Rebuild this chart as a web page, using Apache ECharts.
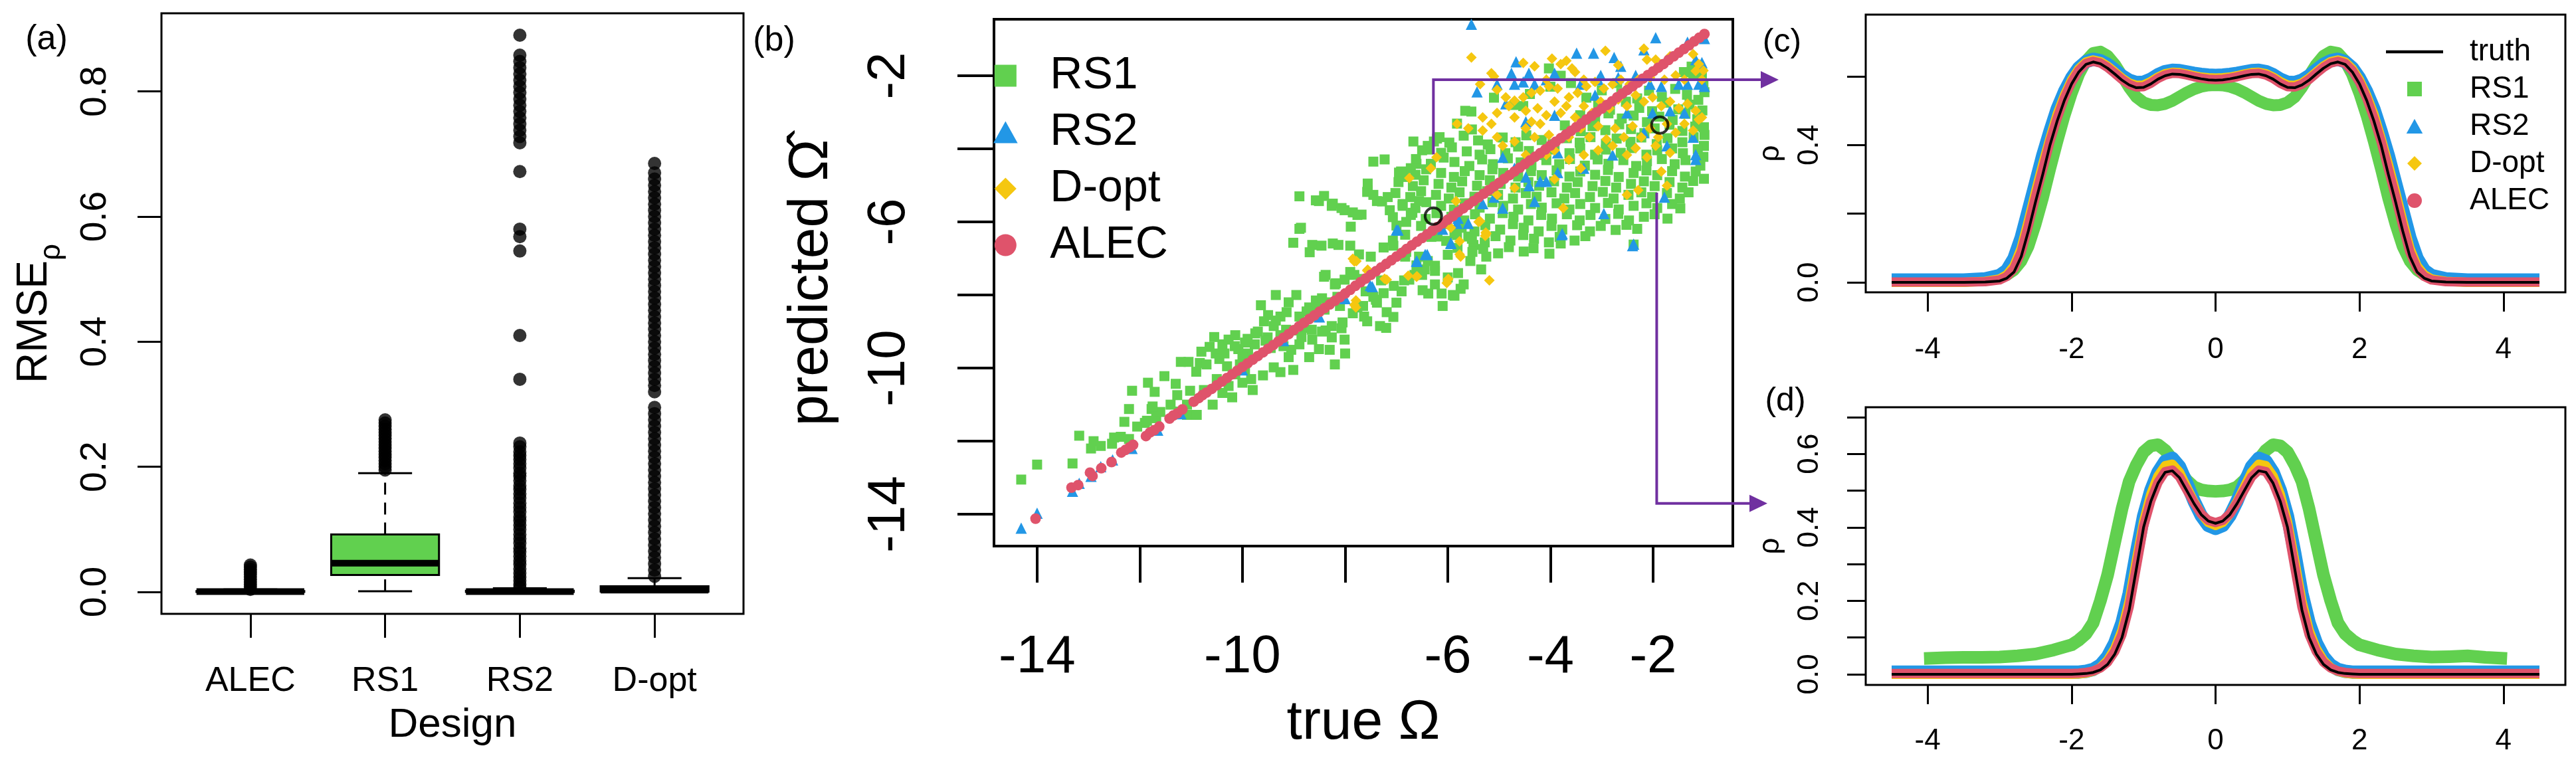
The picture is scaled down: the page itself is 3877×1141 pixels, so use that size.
<!DOCTYPE html>
<html>
<head>
<meta charset="utf-8">
<script src="https://cdn.jsdelivr.net/npm/echarts@6.0.0/dist/echarts.min.js"></script>
<style>html,body{margin:0;padding:0;background:#fff}#main{width:3877px;height:1141px}</style>
</head>
<body>
<div id="main"></div>
<script>
// ---------------- DATA ----------------
const DESIGNS = ['ALEC', 'RS1', 'RS2', 'D-opt'];
// boxplot stats per design: [lower whisker, Q1, median, Q3, upper whisker]
const BOX_ALEC = [0, 0, 0.0005, 0.0015, 0.004];
const BOX_RS1  = [0.001, 0.027, 0.046, 0.092, 0.19];
const BOX_RS2  = [0, 0, 0.0005, 0.002, 0.006];
const BOX_DOPT = [0, 0.0005, 0.003, 0.009, 0.022];
const OUT_ALEC = [0.004,0.008,0.012,0.016,0.02,0.024,0.028,0.032,0.036,0.04,0.043];
const OUT_RS1 = [0.195,0.2,0.205,0.21,0.215,0.22,0.225,0.23,0.235,0.24,0.245,0.25,0.255,0.26,0.265,0.27,0.275];
const OUT_RS2 = [0.007,0.012,0.018,0.024,0.03,0.037,0.044,0.05,0.057,0.064,0.07,0.078,0.085,0.092,0.1,0.107,0.114,0.12,0.128,0.135,0.142,0.15,0.157,0.164,0.17,0.178,0.185,0.19,0.198,0.205,0.212,0.218,0.224,0.232,0.238,0.34,0.41,0.545,0.568,0.58,0.672,0.718,0.728,0.738,0.748,0.758,0.768,0.778,0.788,0.798,0.808,0.818,0.828,0.838,0.848,0.858,0.89];
const OUT_DOPT = [0.025,0.035,0.045,0.055,0.065,0.075,0.085,0.095,0.105,0.115,0.125,0.135,0.145,0.155,0.165,0.175,0.185,0.195,0.205,0.215,0.225,0.235,0.245,0.255,0.265,0.275,0.285,0.295,0.32,0.33,0.34,0.35,0.36,0.37,0.38,0.39,0.4,0.41,0.42,0.43,0.44,0.45,0.46,0.47,0.48,0.49,0.5,0.51,0.52,0.53,0.54,0.55,0.56,0.57,0.58,0.59,0.6,0.61,0.62,0.63,0.64,0.65,0.66,0.67,0.685];
const RMSE_TICKS = [0, 0.2, 0.4, 0.6, 0.8];

// panel (b): [true Omega, predicted Omega]
const B_RS1 = [
[-14.31,-13.05],[-14.0,-12.64],[-13.31,-12.61],[-13.18,-11.85],[-12.95,-12.2],[-12.76,-12.13],[-12.54,-12.07],[-12.37,-11.88],[-12.21,-11.94],[-12.21,-11.12],[-12.15,-10.62],[-12.3,-11.47],[-11.84,-10.4],[-11.71,-10.65],[-11.77,-11.12],[-11.68,-11.37],[-11.52,-10.22],[-11.3,-10.43],[-11.27,-10.74],[-11.2,-9.83],[-11.05,-9.83],[-10.83,-9.86],[-11.24,-11.19],[-11.08,-11.28],[-10.89,-11.28],[-11.02,-10.62],[-11.08,-11.0],[-11.4,-11.0],[-11.6,-11.2],[-11.9,-11.5],[-12.05,-11.6],[-12.9,-12.0],[-12.5,-11.9],[-11.86,-11.44],[-11.75,-11.05],
[-10.64,-9.42],[-10.52,-9.6],[-10.39,-9.35],[-10.27,-9.22],[-10.14,-9.1],[-10.08,-9.48],[-9.89,-9.6],[-9.76,-9.35],[-10.58,-11.0],[-10.39,-10.68],[-10.27,-10.49],[-10.14,-10.17],[-9.95,-10.05],[-9.83,-10.3],[-9.58,-8.72],[-9.39,-8.85],[-9.26,-8.59],[-9.14,-8.47],[-9.64,-8.28],[-9.51,-9.16],[-9.26,-9.1],[-9.01,-8.97],[-9.39,-9.98],[-9.26,-10.11],[-9.01,-10.05],[-8.89,-8.59],[-8.7,-8.34],[-8.57,-8.15],[-8.45,-8.09],[-8.89,-9.35],[-8.64,-9.22],[-8.51,-9.48],[-8.26,-9.16],[-8.01,-9.22],[-8.38,-8.97],[-8.26,-8.85],[-8.07,-8.91],[-8.38,-7.45],[-8.2,-7.71],[-8.01,-7.58],[-7.82,-7.45],[-10.7,-9.9],[-10.45,-9.75],[-10.3,-9.95],[-10.0,-9.7],[-9.9,-9.2],[-9.7,-9.0],[-9.5,-8.55],[-9.45,-9.45],[-9.2,-9.4],[-9.1,-9.7],[-9.6,-10.2],[-9.8,-10.6],[-10.0,-10.4],[-10.2,-10.8],[-10.5,-10.3],[-10.75,-10.6],[-8.8,-8.9],[-8.6,-8.6],[-8.4,-8.4],[-8.3,-9.5],[-8.7,-9.7],[-8.1,-8.3],[-8.95,-8.0],[-9.1,-8.2],[-9.35,-8.0],[-8.0,-9.6],[-8.2,-9.9],
[-10.9,-10.1],[-10.8,-9.55],[-10.55,-9.15],[-10.35,-9.6],[-10.15,-9.4],[-10.05,-9.9],[-9.95,-9.3],[-9.75,-9.05],[-9.55,-9.25],[-9.35,-8.7],[-9.15,-8.95],[-9.05,-9.5],[-8.85,-9.15],[-8.75,-8.45],[-8.65,-8.95],[-8.55,-8.35],[-8.45,-9.0],[-8.35,-8.2],[-8.15,-8.05],[-8.05,-8.75],[-7.85,-8.5],[-7.65,-8.3],[-7.45,-8.05],[-7.25,-7.95],[-7.05,-7.75],[-6.85,-7.6],[-6.65,-7.45],[-6.45,-7.3],[-6.25,-7.2],
[-7.76,-8.34],[-7.63,-8.59],[-7.38,-8.21],[-7.19,-8.47],[-7.0,-8.21],[-7.57,-8.72],[-7.32,-8.85],[-7.5,-6.95],[-7.25,-6.7],[-7.07,-6.51],[-6.81,-6.82],[-6.56,-6.95],[-6.75,-7.58],[-6.5,-7.45],[-6.25,-7.71],[-6.0,-7.52],[-5.75,-7.83],[-6.38,-7.96],[-6.12,-7.96],[-5.87,-8.02],[-5.69,-7.71],[-8.89,-6.19],[-9.01,-6.57],[-8.64,-6.63],[-8.13,-6.63],[-8.89,-5.3],[-8.51,-5.43],[-8.26,-5.56],[-8.01,-5.68],[-7.76,-5.81],[-7.89,-6.13],[-7.57,-5.18],[-7.38,-5.43],[-7.13,-5.68],[-6.88,-5.56],[-6.69,-5.75],[-6.56,-5.43],[-7.07,-5.87],[-6.81,-6.0],[-5.87,-6.32],[-5.5,-6.63],[-5.25,-6.95],[-8.57,-5.41],[-8.41,-5.29],[-8.24,-5.5],[-8.07,-5.62],[-7.85,-5.74],[-7.68,-5.8],[-8.86,-6.16],[-8.69,-6.83],[-8.46,-6.65],[-8.24,-6.59],[-7.9,-6.65],[-7.73,-6.89],[-8.41,-7.5],[-8.18,-7.68],[-7.9,-7.37],[-7.68,-7.56],[-7.56,-5.13],[-7.45,-5.26],[-7.28,-5.44],[-7.17,-5.32],[-7.56,-4.95],[-7.45,-4.35],[-7.23,-4.29],[-6.95,-4.65],[-6.83,-4.77],[-6.72,-4.53],[-6.61,-4.41],[-6.5,-4.04],[-6.39,-3.92],[-6.27,-3.8],[-6.16,-3.68],[-6.67,-3.8],[-7.0,-6.1],[-6.83,-6.35],[-7.06,-6.65],[-6.83,-6.95],[-6.61,-7.19],[-6.39,-7.07],[-6.49,-7.87],[-6.25,-7.34],[-5.9,-8.0],[-5.56,-7.07],[-7.4,-8.13],[-7.2,-8.9],[-7.06,-8.6],[-6.9,-7.9],[-7.3,-7.6],[-7.6,-7.9],[-6.1,-8.3],[-5.8,-7.4],[-5.35,-7.3],[-5.6,-6.4],[-6.0,-6.9],[-6.2,-6.4],
[-5.66,-2.96],[-5.54,-2.98],[-4.53,-2.83],[-4.03,-1.8],[-3.8,-2.0],[-1.25,-1.75],[-1.05,-1.95],[-1.0,-2.45],[-1.4,-1.9],[-5.1,-2.6],[-4.7,-2.8],[-4.4,-2.5],[-4.0,-2.3],[-3.6,-2.2],[-3.3,-2.6],[-3.0,-2.4],[-2.7,-2.2],
[-2.62,-2.47],[-2.31,-2.62],[-2.08,-2.41],[-1.83,-2.58],[-1.57,-2.36],[-1.34,-2.52],[-1.12,-2.66],[-1.02,-2.21],[-1.22,-1.98],
[-3.07,-2.78],[-2.84,-2.93],[-2.53,-2.71],[-2.27,-2.88],[-2.02,-2.97],[-1.76,-2.74],[-1.51,-2.92],[-1.29,-2.79],[-1.04,-2.95],
[-3.42,-3.08],[-3.13,-3.22],[-2.87,-3.03],[-2.61,-3.17],[-2.38,-3.09],[-2.12,-3.27],[-1.88,-3.12],[-1.62,-3.21],[-1.37,-3.04],[-1.14,-3.19],[-1.01,-3.41],
[-5.82,-3.31],[-5.53,-3.47],[-3.72,-3.36],[-3.41,-3.52],[-3.18,-3.38],[-2.93,-3.49],[-2.66,-3.33],[-2.43,-3.46],[-2.17,-3.57],[-1.97,-3.44],[-1.68,-3.34],[-1.43,-3.51],[-1.18,-3.39],[-1.0,-3.62],
[-6.21,-3.72],[-5.97,-3.83],[-5.69,-3.64],[-5.41,-3.77],[-5.22,-3.88],[-4.93,-3.69],[-4.68,-3.82],[-4.47,-3.63],[-4.17,-3.76],[-3.96,-3.87],[-3.68,-3.71],[-3.43,-3.83],[-3.22,-3.68],[-2.92,-3.86],[-2.71,-3.72],[-2.44,-3.81],[-2.23,-3.69],[-1.93,-3.87],[-1.72,-3.71],[-1.43,-3.82],[-1.21,-3.68],[-1.01,-3.92],
[-6.38,-4.02],[-6.13,-4.11],[-5.92,-3.96],[-5.63,-4.07],[-5.38,-4.16],[-5.17,-4.01],[-4.88,-4.12],[-4.63,-3.94],[-4.42,-4.06],[-4.13,-4.17],[-3.92,-4.02],[-3.63,-4.12],[-3.42,-3.99],[-3.13,-4.16],[-2.92,-4.02],[-2.63,-4.11],[-2.42,-3.98],[-2.13,-4.16],[-1.92,-4.04],[-1.63,-3.99],[-1.42,-4.12],[-1.13,-4.01],[-1.02,-4.22],
[-6.62,-4.28],[-6.33,-4.41],[-6.08,-4.24],[-5.87,-4.36],[-5.58,-4.47],[-5.33,-4.29],[-5.12,-4.42],[-4.83,-4.26],[-4.58,-4.37],[-4.37,-4.46],[-4.08,-4.31],[-3.83,-4.42],[-3.62,-4.28],[-3.33,-4.46],[-3.08,-4.29],[-2.87,-4.41],[-2.58,-4.31],[-2.33,-4.47],[-2.12,-4.34],[-1.83,-4.28],[-1.58,-4.42],[-1.37,-4.31],[-1.08,-4.46],
[-6.91,-4.62],[-6.63,-4.71],[-6.42,-4.56],[-6.13,-4.66],[-5.88,-4.77],[-5.67,-4.61],[-5.38,-4.72],[-5.13,-4.56],[-4.92,-4.66],[-4.63,-4.76],[-4.38,-4.61],[-4.17,-4.72],[-3.88,-4.59],[-3.63,-4.76],[-3.42,-4.62],[-3.13,-4.71],[-2.88,-4.58],[-2.67,-4.77],[-2.38,-4.66],[-2.13,-4.59],[-1.92,-4.72],[-1.63,-4.61],[-1.38,-4.76],[-1.17,-4.62],[-1.01,-4.82],
[-6.96,-4.91],[-6.68,-5.02],[-6.47,-4.86],[-6.18,-4.96],[-5.93,-5.06],[-5.72,-4.89],[-5.43,-5.01],[-5.18,-4.86],[-4.97,-4.96],[-4.68,-5.06],[-4.43,-4.91],[-4.22,-5.01],[-3.93,-4.89],[-3.68,-5.06],[-3.47,-4.91],[-3.18,-5.02],[-2.93,-4.88],[-2.72,-5.06],[-2.43,-4.96],[-2.18,-4.89],[-1.97,-5.02],[-1.68,-4.91],[-1.43,-5.06],[-1.22,-4.88],
[-7.02,-5.21],[-6.73,-5.32],[-6.52,-5.16],[-6.23,-5.26],[-5.98,-5.36],[-5.77,-5.19],[-5.48,-5.31],[-5.23,-5.16],[-5.02,-5.26],[-4.73,-5.36],[-4.48,-5.21],[-4.27,-5.31],[-3.98,-5.19],[-3.73,-5.36],[-3.52,-5.21],[-3.23,-5.32],[-2.98,-5.18],[-2.77,-5.36],[-2.48,-5.26],[-2.23,-5.19],[-2.02,-5.32],[-1.73,-5.21],[-1.48,-5.36],[-1.31,-5.19],
[-6.88,-5.51],[-6.63,-5.62],[-6.42,-5.46],[-6.13,-5.56],[-5.88,-5.66],[-5.67,-5.49],[-5.38,-5.61],[-5.13,-5.46],[-4.92,-5.56],[-4.63,-5.66],[-4.38,-5.51],[-4.17,-5.61],[-3.88,-5.49],[-3.63,-5.66],[-3.42,-5.51],[-3.13,-5.62],[-2.88,-5.48],[-2.67,-5.66],[-2.38,-5.56],[-2.13,-5.49],[-1.92,-5.62],[-1.63,-5.51],[-1.47,-5.63],
[-6.72,-5.81],[-6.43,-5.92],[-6.22,-5.76],[-5.93,-5.86],[-5.68,-5.96],[-5.47,-5.79],[-5.18,-5.91],[-4.93,-5.76],[-4.72,-5.86],[-4.43,-5.96],[-4.18,-5.81],[-3.97,-5.91],[-3.68,-5.79],[-3.43,-5.96],[-3.22,-5.81],[-2.93,-5.92],[-2.68,-5.78],[-2.47,-5.96],[-2.18,-5.86],[-1.97,-5.79],[-1.72,-5.91],
[-6.52,-6.11],[-6.23,-6.22],[-6.02,-6.06],[-5.73,-6.16],[-5.48,-6.26],[-5.27,-6.09],[-4.98,-6.21],[-4.73,-6.06],[-4.52,-6.16],[-4.23,-6.26],[-3.98,-6.11],[-3.77,-6.21],[-3.48,-6.09],[-3.23,-6.26],[-3.02,-6.11],[-2.73,-6.22],[-2.52,-6.08],[-2.31,-6.19],
[-6.32,-6.41],[-6.03,-6.52],[-5.82,-6.36],[-5.53,-6.46],[-5.28,-6.56],[-5.07,-6.39],[-4.78,-6.51],[-4.53,-6.36],[-4.32,-6.46],[-4.03,-6.56],[-3.82,-6.41],[-3.53,-6.51],[-3.32,-6.39],[-2.38,-6.62],
[-5.81,-6.71],[-5.52,-6.82],[-5.31,-6.74],[-5.02,-6.86],[-4.81,-6.69],[-4.52,-6.81],[-4.33,-6.72],[-4.02,-6.87],[-3.8,-6.59]
];
const B_RS2 = [
[-5.54,-0.59],[-1.95,-0.96],[-3.49,-1.38],[-3.16,-1.38],[-2.76,-1.5],[-2.18,-1.29],[-1.33,-1.08],[-1.02,-0.93],[-4.67,-1.62],[-4.76,-1.93],[-4.42,-1.93],[-3.92,-1.93],[-3.02,-1.99],[-2.63,-1.74],[-5.43,-2.44],[-5.04,-2.23],[-4.7,-2.23],[-4.53,-2.17],[-4.31,-2.23],[-4.08,-2.11],[-3.41,-2.23],[-3.07,-2.11],[-2.68,-2.05],[-2.34,-1.99],[-2.06,-2.23],[-1.84,-2.29],[-1.5,-2.23],[-1.33,-2.23],[-1.11,-2.23],[-1.05,-1.68],[-1.17,-1.56],[-4.87,-2.77],[-4.48,-3.26],[-3.92,-3.08],[-3.13,-2.53],[-2.18,-3.56],[-1.73,-3.92],[-1.22,-3.68],[-1.17,-4.29],[-1.78,-5.32],[-2.96,-5.77],[-3.78,-6.35],[-2.4,-6.65],[-4.31,-5.44],[-4.93,-5.62],[-5.1,-5.32],[-5.32,-5.5],[-5.6,-6.04],[-5.82,-6.04],[-5.94,-6.59],[-6.44,-6.89],[-6.61,-7.07],[-7.0,-6.22],[-7.51,-7.74],[-4.93,-4.23],[-4.48,-4.77],[-4.2,-4.89],[-4.08,-4.89],[-3.86,-4.65],[-3.86,-4.11],[-4.42,-5.01],[-4.7,-4.53],[-3.35,-4.53],[-2.79,-4.17],[-1.39,-3.02],[-2.01,-3.02],[-1.0,-2.29],[-1.67,-2.96],[-2.51,-3.02],
[-2.38,-6.61],[-3.77,-6.32],[-1.17,-4.16],[-1.0,-0.98],[-1.05,-1.64],
[-14.31,-14.38],[-14.0,-13.97],[-13.31,-13.37],[-13.18,-13.15],[-12.95,-12.96],[-12.76,-12.7],[-12.53,-12.51],[-12.15,-12.2],[-11.65,-11.7],[-11.2,-11.25],[-7.47,-7.77],[-6.97,-6.22],[-6.6,-7.08],[-6.4,-6.89],[-5.94,-6.57],[-6.1,-6.2],[-5.8,-5.9],[-10.0,-10.05],[-9.2,-9.25],[-8.5,-8.6],[-8.0,-8.1]
];
const B_DOPT = [
[-5.54,-1.5],[-5.15,-1.93],[-5.1,-2.02],[-4.53,-1.65],[-4.31,-1.74],[-3.97,-1.53],[-3.8,-1.68],[-3.52,-1.9],[-2.93,-1.32],[-2.68,-1.71],[-2.18,-1.26],[-2.12,-1.56],[-1.95,-1.56],[-1.67,-1.47],[-1.22,-1.41],[-1.11,-1.68],[-1.02,-1.86],[-3.69,-1.59],[-3.58,-1.8],[-3.35,-2.11],[-4.08,-2.11],
[-5.37,-2.23],[-5.04,-2.38],[-4.87,-2.59],[-4.7,-2.68],[-4.53,-2.59],[-4.37,-2.47],[-4.2,-2.41],[-4.03,-2.29],[-3.86,-2.35],[-3.64,-2.59],[-3.47,-2.47],[-3.3,-2.29],[-3.13,-2.17],[-2.96,-2.35],[-2.79,-2.23],[-2.63,-2.11],[-2.46,-2.23],[-2.29,-2.11],[-2.06,-2.05],[-1.78,-2.11],[-1.56,-1.99],[-1.39,-2.11],[-1.17,-1.87],[-1.05,-2.11],
[-5.82,-3.32],[-5.6,-3.44],[-5.32,-3.14],[-5.15,-3.32],[-5.04,-3.02],[-4.81,-2.83],[-4.7,-3.14],[-4.48,-2.96],[-4.37,-3.26],[-4.25,-2.89],[-4.08,-3.08],[-3.92,-2.71],[-3.8,-3.02],[-3.69,-2.83],[-3.52,-3.14],[-3.35,-2.83],[-3.19,-3.02],[-3.02,-2.71],[-2.85,-2.89],[-2.68,-2.65],[-2.51,-2.83],[-2.34,-2.53],[-2.18,-2.71],[-2.01,-2.59],[-1.84,-2.83],[-1.67,-2.71],[-1.5,-2.89],[-1.33,-2.77],[-1.17,-2.96],[-1.05,-3.14],
[-5.32,-3.5],[-5.04,-3.68],[-4.93,-3.92],[-4.7,-3.8],[-4.48,-3.44],[-4.31,-3.68],[-4.2,-3.32],[-4.03,-3.62],[-3.92,-4.04],[-3.64,-3.68],[-3.41,-3.44],[-3.24,-3.68],[-3.07,-3.38],[-2.91,-3.74],[-2.74,-3.44],[-2.57,-3.68],[-2.4,-3.38],[-2.23,-3.68],[-2.06,-3.44],[-1.9,-3.68],[-1.73,-3.32],[-1.56,-3.56],[-1.39,-3.32],[-1.22,-3.5],[-1.11,-3.2],
[-3.35,-4.17],[-3.07,-4.04],[-2.79,-3.92],[-2.51,-4.17],[-2.34,-3.98],[-2.12,-4.23],[-1.95,-3.92],[-1.67,-4.11],[-1.84,-4.62],[-3.41,-4.53],[-3.92,-4.83],[-3.64,-4.3],[-4.08,-4.17],[-4.48,-4.17],
[-3.75,-5.62],[-2.51,-5.26],[-2.29,-5.13],[-1.73,-5.01],[-5.26,-6.29],[-5.37,-5.98],[-5.77,-6.53],[-5.77,-6.89],[-5.99,-7.56],[-6.61,-7.5],[-7.23,-7.56],[-7.56,-7.31],[-7.85,-7.01],[-6.22,-4.23],[-6.75,-4.8],[-6.33,-4.53],[-5.94,-6.16],[-5.04,-5.26],[-4.7,-5.07],
[-7.82,-7.08],[-7.57,-7.33],[-7.19,-7.58],[-7.79,-8.15],[-7.79,-8.34],[-6.6,-7.49],[-6.0,-7.58],[-5.75,-6.95],[-5.4,-6.0],[-5.84,-5.43],[-5.25,-6.32],[-7.78,-7.07],[-7.82,-8.27],[-6.77,-7.47],[-6.02,-7.67],[-5.19,-7.6],[-5.27,-6.38]
];
const B_ALEC = [
[-14.03,-14.12],[-13.33,-13.27],[-13.2,-13.2],[-12.97,-12.86],[-12.92,-12.95],[-12.75,-12.74],[-12.55,-12.57],[-12.36,-12.31],[-12.28,-12.24],[-12.2,-12.17],[-12.13,-12.1],[-11.88,-11.86],[-11.8,-11.76],[-11.72,-11.7],[-11.62,-11.6],[-11.42,-11.38],[-11.35,-11.3],[-11.27,-11.24],[-11.17,-11.13],[-10.95,-10.92],[-10.85,-10.82],[-10.78,-10.74],
[-10.7,-10.67],[-10.6,-10.57],[-10.5,-10.47],[-10.4,-10.37],[-10.3,-10.27],[-10.2,-10.17],[-10.1,-10.07],[-10,-9.97],[-9.9,-9.87],[-9.8,-9.77],[-9.7,-9.67],[-9.6,-9.57],[-9.5,-9.47],[-9.4,-9.37],[-9.3,-9.27],[-9.2,-9.17],[-9.1,-9.07],[-9,-8.96],[-8.9,-8.86],[-8.8,-8.76],[-8.7,-8.66],[-8.6,-8.56],[-8.5,-8.46],[-8.4,-8.36],[-8.3,-8.26],[-8.2,-8.16],[-8.1,-8.06],[-8,-7.96],[-7.9,-7.86],[-7.8,-7.75],[-7.7,-7.65],[-7.6,-7.55],[-7.5,-7.45],[-7.4,-7.35],[-7.3,-7.25],[-7.2,-7.15],[-7.1,-7.05],[-7,-6.95],[-6.9,-6.85],[-6.8,-6.74],[-6.7,-6.64],[-6.6,-6.54],[-6.5,-6.44],[-6.4,-6.34],[-6.3,-6.24],[-6.2,-6.14],[-6.1,-6.04],[-6,-5.94],[-5.9,-5.84],[-5.8,-5.73],[-5.7,-5.63],[-5.6,-5.53],[-5.5,-5.43],[-5.4,-5.33],[-5.3,-5.23],[-5.2,-5.13],[-5.1,-5.03],[-5,-4.93],[-4.9,-4.82],[-4.8,-4.72],[-4.7,-4.62],[-4.6,-4.52],[-4.5,-4.42],[-4.4,-4.32],[-4.3,-4.22],[-4.2,-4.12],[-4.1,-4.02],[-4,-3.91],[-3.9,-3.81],[-3.8,-3.71],[-3.7,-3.61],[-3.6,-3.51],[-3.5,-3.41],[-3.4,-3.31],[-3.3,-3.2],[-3.2,-3.1],[-3.1,-3.0],[-3,-2.9],[-2.9,-2.8],[-2.8,-2.7],[-2.7,-2.59],[-2.6,-2.49],[-2.5,-2.39],[-2.4,-2.29],[-2.3,-2.19],[-2.2,-2.08],[-2.1,-1.98],[-2,-1.88],[-1.9,-1.78],[-1.8,-1.68],[-1.7,-1.57],[-1.6,-1.47],[-1.5,-1.37],[-1.4,-1.27],[-1.3,-1.17],[-1.2,-1.06],[-1.1,-0.96],[-1,-0.86]
];
const B_MARKED = [[-6.28,-5.84],[-1.87,-3.35]];
const CONN_C = [-6.28, -4.15, -2.11];   // x, start y, turn y (to panel c)
const CONN_D = [-1.93, -5.2, -13.7];    // x, start y, turn y (to panel d)
const OMEGA_TICKS = [-14,-12,-10,-8,-6,-4,-2];
const OMEGA_XLABELS = [-14,-10,-6,-4,-2];
const OMEGA_YLABELS = [-14,-10,-6,-2];

// panels (c),(d): density curves rho(x)
const XC = [-4.5,-4,-3.5,-3.2,-3,-2.9,-2.8,-2.7,-2.6,-2.5,-2.4,-2.3,-2.2,-2.1,-2,-1.9,-1.8,-1.7,-1.6,-1.5,-1.4,-1.3,-1.2,-1.1,-1,-0.9,-0.8,-0.7,-0.6,-0.5,-0.4,-0.3,-0.2,-0.1,0,0.1,0.2,0.3,0.4,0.5,0.6,0.7,0.8,0.9,1,1.1,1.2,1.3,1.4,1.5,1.6,1.7,1.8,1.9,2,2.1,2.2,2.3,2.4,2.5,2.6,2.7,2.8,2.9,3,3.2,3.5,4,4.5];
const C_TRUTH = [0,0,0,0.001,0.004,0.012,0.03,0.075,0.15,0.235,0.315,0.4,0.47,0.53,0.578,0.613,0.635,0.642,0.637,0.624,0.607,0.589,0.575,0.567,0.568,0.578,0.592,0.602,0.607,0.606,0.602,0.597,0.593,0.59,0.589,
0.59,0.593,0.597,0.602,0.606,0.607,0.602,0.592,0.578,0.568,0.567,0.575,0.589,0.607,0.624,0.637,0.642,0.635,0.613,0.578,0.53,0.47,0.4,0.315,0.235,0.15,0.075,0.03,0.012,0.004,0.001,0,0,0];
const C_RS1 = [0.004,0.004,0.005,0.008,0.014,0.022,0.036,0.062,0.105,0.17,0.245,0.33,0.41,0.485,0.55,0.605,0.645,0.668,0.672,0.66,0.635,0.602,0.568,0.54,0.524,0.517,0.516,0.52,0.529,0.541,0.553,0.563,0.57,0.574,0.575,
0.574,0.57,0.563,0.553,0.541,0.529,0.52,0.516,0.517,0.524,0.54,0.568,0.602,0.635,0.66,0.672,0.668,0.645,0.605,0.55,0.485,0.41,0.33,0.245,0.17,0.105,0.062,0.036,0.022,0.014,0.008,0.005,0.004,0.004];
const C_RS2 = [0.007,0.007,0.007,0.01,0.02,0.035,0.07,0.13,0.21,0.29,0.37,0.44,0.505,0.555,0.595,0.625,0.643,0.65,0.646,0.635,0.619,0.602,0.589,0.582,0.583,0.592,0.605,0.614,0.618,0.617,0.613,0.609,0.606,0.604,0.603,
0.604,0.606,0.609,0.613,0.617,0.618,0.614,0.605,0.592,0.583,0.582,0.589,0.602,0.619,0.635,0.646,0.65,0.643,0.625,0.595,0.555,0.505,0.44,0.37,0.29,0.21,0.13,0.07,0.035,0.02,0.01,0.007,0.007,0.007];
const C_DOPT = [0,0,0,0.003,0.01,0.022,0.048,0.1,0.18,0.265,0.345,0.42,0.49,0.545,0.59,0.622,0.642,0.648,0.643,0.63,0.613,0.595,0.581,0.574,0.575,0.585,0.598,0.608,0.612,0.611,0.607,0.602,0.598,0.596,0.595,
0.596,0.598,0.602,0.607,0.611,0.612,0.608,0.598,0.585,0.575,0.574,0.581,0.595,0.613,0.63,0.643,0.648,0.642,0.622,0.59,0.545,0.49,0.42,0.345,0.265,0.18,0.1,0.048,0.022,0.01,0.003,0,0,0];
const C_ALEC = [0.001,0.001,0.001,0.002,0.007,0.017,0.04,0.088,0.165,0.25,0.33,0.41,0.478,0.537,0.583,0.617,0.638,0.644,0.639,0.626,0.609,0.591,0.577,0.569,0.57,0.58,0.594,0.604,0.609,0.608,0.604,0.599,0.595,0.592,0.591,
0.592,0.595,0.599,0.604,0.608,0.609,0.604,0.594,0.58,0.57,0.569,0.577,0.591,0.609,0.626,0.639,0.644,0.638,0.617,0.583,0.537,0.478,0.41,0.33,0.25,0.165,0.088,0.04,0.017,0.007,0.002,0.001,0.001,0.001];
const XD = [-4.5,-4,-3.5,-3,-2.5,-2.2,-2,-1.9,-1.8,-1.7,-1.6,-1.5,-1.4,-1.3,-1.2,-1.1,-1,-0.9,-0.8,-0.7,-0.6,-0.5,-0.4,-0.3,-0.2,-0.1,0,0.1,0.2,0.3,0.4,0.5,0.6,0.7,0.8,0.9,1,1.1,1.2,1.3,1.4,1.5,1.6,1.7,1.8,1.9,2,2.2,2.5,3,3.5,4,4.5];
const D_TRUTH = [0,0,0,0,0,0,0,0.001,0.002,0.005,0.012,0.027,0.055,0.1,0.175,0.287,0.4,0.47,0.52,0.55,0.554,0.535,0.5,0.465,0.435,0.417,0.411,
0.417,0.435,0.465,0.5,0.535,0.554,0.55,0.52,0.47,0.4,0.287,0.175,0.1,0.055,0.027,0.012,0.005,0.002,0.001,0,0,0,0,0,0,0];
const D_RS2 = [0.006,0.006,0.006,0.006,0.006,0.006,0.006,0.006,0.008,0.013,0.025,0.048,0.085,0.14,0.22,0.33,0.43,0.5,0.55,0.58,0.588,0.565,0.52,0.472,0.432,0.405,0.397,
0.405,0.432,0.472,0.52,0.565,0.588,0.58,0.55,0.5,0.43,0.33,0.22,0.14,0.085,0.048,0.025,0.013,0.008,0.006,0.006,0.006,0.006,0.006,0.006,0.006,0.006];
const D_DOPT = [0,0,0,0,0,0,0,0.001,0.003,0.008,0.018,0.038,0.07,0.12,0.2,0.31,0.415,0.49,0.54,0.568,0.572,0.55,0.51,0.47,0.437,0.413,0.405,
0.413,0.437,0.47,0.51,0.55,0.572,0.568,0.54,0.49,0.415,0.31,0.2,0.12,0.07,0.038,0.018,0.008,0.003,0.001,0,0,0,0,0,0,0];
const D_ALEC = [0.002,0.002,0.002,0.002,0.002,0.002,0.002,0.003,0.005,0.009,0.017,0.033,0.062,0.108,0.183,0.292,0.402,0.472,0.522,0.552,0.556,0.537,0.502,0.467,0.437,0.419,0.413,
0.419,0.437,0.467,0.502,0.537,0.556,0.552,0.522,0.472,0.402,0.292,0.183,0.108,0.062,0.033,0.017,0.009,0.005,0.003,0.002,0.002,0.002,0.002,0.002,0.002,0.002];
const XDG = [-4.05,-3.75,-3.5,-3.25,-3,-2.75,-2.5,-2.25,-2,-1.9,-1.8,-1.7,-1.6,-1.5,-1.4,-1.3,-1.2,-1.1,-1,-0.9,-0.8,-0.7,-0.6,-0.5,-0.4,-0.3,-0.2,-0.1,0,0.1,0.2,0.3,0.4,0.5,0.6,0.7,0.8,0.9,1,1.1,1.2,1.3,1.4,1.5,1.6,1.7,1.8,1.9,2,2.25,2.5,2.75,3,3.25,3.5,3.75,4.05];
const D_RS1 = [0.043,0.045,0.046,0.046,0.047,0.05,0.055,0.066,0.08,0.093,0.11,0.14,0.2,0.27,0.36,0.45,0.525,0.57,0.605,0.622,0.625,0.61,0.585,0.555,0.528,0.51,0.502,0.499,0.498,
0.499,0.502,0.51,0.528,0.555,0.585,0.61,0.625,0.622,0.605,0.57,0.525,0.45,0.36,0.27,0.2,0.14,0.11,0.093,0.08,0.066,0.055,0.05,0.047,0.048,0.05,0.046,0.043];
const RHO_X_TICKS = [-4,-2,0,2,4];
const RHO_C_TICKS = [0,0.2,0.4,0.6];
const RHO_C_LABELS = [0,0.4];
const RHO_D_TICKS = [0,0.1,0.2,0.3,0.4,0.5,0.6,0.7];
const RHO_D_LABELS = [0,0.2,0.4,0.6];

// ---------------- STYLE ----------------
const COL = { green:'#61D04F', blue:'#2297E6', yellow:'#F5C710', red:'#DF536B', purple:'#7030A0' };
const BOX_FILL = [COL.red, COL.green, COL.blue, COL.yellow];
const FONT = '"Liberation Sans", Arial, Helvetica, sans-serif';
const ICON_SQ = 'path://M0,0H10V10H0Z';
const ICON_TRI = 'path://M5,0L10,9L0,9Z';
const ICON_DIA = 'path://M5,0L10,5L5,10L0,5Z';
const ICON_CIR = 'path://M0,5A5,5,0,1,1,10,5A5,5,0,1,1,0,5Z';
const ICON_LINE = 'path://M0,0H100V5H0Z';

const chart = echarts.init(document.getElementById('main'), null, {renderer:'canvas'});

function tickAxis(o) {
  return Object.assign({
    type:'value', axisLine:{show:false, onZero:false}, splitLine:{show:false},
    nameLocation:'middle', nameTextStyle:{color:'#000', fontFamily:FONT}
  }, o);
}
function pairs(xs, ys) { return xs.map((x, i) => [x, ys[i]]); }
const BOXES = [BOX_ALEC, BOX_RS1, BOX_RS2, BOX_DOPT].map((b, i) => [i + 1].concat(b));
const OUTLIERS = [].concat(
  OUT_ALEC.map(v => [1, v]), OUT_RS1.map(v => [2, v]), OUT_RS2.map(v => [3, v]), OUT_DOPT.map(v => [4, v]));

function renderBox(params, api) {
  const x = api.value(0);
  const lo = api.coord([x, api.value(1)]);
  const q1 = api.coord([x, api.value(2)]);
  const md = api.coord([x, api.value(3)]);
  const q3 = api.coord([x, api.value(4)]);
  const hi = api.coord([x, api.value(5)]);
  const hw = api.size([0.4, 0])[0];
  const sw = hw / 2;
  const cx = md[0];
  const k = '#000';
  return { type:'group', children:[
    {type:'line', shape:{x1:cx, y1:q3[1], x2:cx, y2:hi[1]}, style:{stroke:k, lineWidth:3, lineDash:[18,12]}},
    {type:'line', shape:{x1:cx, y1:lo[1], x2:cx, y2:q1[1]}, style:{stroke:k, lineWidth:3, lineDash:[18,12]}},
    {type:'line', shape:{x1:cx-sw, y1:hi[1], x2:cx+sw, y2:hi[1]}, style:{stroke:k, lineWidth:3}},
    {type:'line', shape:{x1:cx-sw, y1:lo[1], x2:cx+sw, y2:lo[1]}, style:{stroke:k, lineWidth:3}},
    {type:'rect', shape:{x:cx-hw, y:q3[1], width:2*hw, height:Math.max(q1[1]-q3[1], 0.5)}, style:{fill:BOX_FILL[params.dataIndex], stroke:k, lineWidth:3}},
    {type:'line', shape:{x1:cx-hw, y1:md[1], x2:cx+hw, y2:md[1]}, style:{stroke:k, lineWidth:10}}
  ]};
}

const gridBase = {show:true, borderColor:'#000', backgroundColor:'transparent', containLabel:false, outerBoundsMode:'none'};
const tickStyle = w => ({color:'#000', width:w});

function curve(name, gi, xs, ys, color, width, z) {
  return {type:'line', name, xAxisIndex:gi, yAxisIndex:gi, data:pairs(xs, ys), showSymbol:false, symbol:'none',
    color, lineStyle:{color, width, cap:'butt', join:'round'}, itemStyle:{color}, z, silent:true, animation:false};
}
function pts(name, data, symbol, size, color, z) {
  return {type:'scatter', name, xAxisIndex:1, yAxisIndex:1, data, symbol, symbolSize:size,
    itemStyle:{color, opacity:1}, color, z, silent:true, animation:false};
}

const option = {
  animation:false,
  backgroundColor:'#fff',
  textStyle:{fontFamily:FONT, color:'#000'},
  grid:[
    Object.assign({left:243, top:20, width:876, height:904, borderWidth:3}, gridBase),
    Object.assign({left:1496, top:29, width:1112, height:793, borderWidth:4}, gridBase),
    Object.assign({left:2808, top:22, width:1053, height:418, borderWidth:3}, gridBase),
    Object.assign({left:2808, top:613, width:1053, height:418, borderWidth:3}, gridBase)
  ],
  xAxis:[
    tickAxis({gridIndex:0, min:0.34, max:4.66,
      axisTick:{customValues:[1,2,3,4], length:36, lineStyle:tickStyle(3)},
      axisLabel:{customValues:[1,2,3,4], formatter:v => DESIGNS[Math.round(v)-1], fontSize:52, margin:76, color:'#000', fontFamily:FONT},
      name:'Design', nameGap:137, nameTextStyle:{fontSize:62, color:'#000', fontFamily:FONT}}),
    tickAxis({gridIndex:1, min:-14.84, max:-0.447,
      axisTick:{customValues:OMEGA_TICKS, length:55, lineStyle:tickStyle(4)},
      axisLabel:{customValues:OMEGA_XLABELS, fontSize:80, margin:128, color:'#000', fontFamily:FONT},
      name:'true Ω', nameGap:225, nameTextStyle:{fontSize:84, color:'#000', fontFamily:FONT}}),
    tickAxis({gridIndex:2, min:-4.86, max:4.86,
      axisTick:{customValues:RHO_X_TICKS, length:29, lineStyle:tickStyle(3)},
      axisLabel:{customValues:RHO_X_TICKS, fontSize:44, margin:65, color:'#000', fontFamily:FONT}}),
    tickAxis({gridIndex:3, min:-4.86, max:4.86,
      axisTick:{customValues:RHO_X_TICKS, length:29, lineStyle:tickStyle(3)},
      axisLabel:{customValues:RHO_X_TICKS, fontSize:44, margin:63, color:'#000', fontFamily:FONT}})
  ],
  yAxis:[
    tickAxis({gridIndex:0, min:-0.035, max:0.925,
      axisTick:{customValues:RMSE_TICKS, length:36, lineStyle:tickStyle(3)},
      axisLabel:{customValues:RMSE_TICKS, rotate:90, formatter:v => v.toFixed(1), fontSize:55, margin:72, color:'#000', fontFamily:FONT},
      name:'{m|RMSE}{s|ρ}', nameRotate:90, nameGap:143,
      nameTextStyle:{fontSize:64, color:'#000', fontFamily:FONT, rich:{m:{fontSize:64, fontFamily:FONT, color:'#000'}, s:{fontSize:44, fontFamily:FONT, color:'#000', padding:[52,0,0,0]}}}}),
    tickAxis({gridIndex:1, min:-14.87, max:-0.455,
      axisTick:{customValues:OMEGA_TICKS, length:55, lineStyle:tickStyle(4)},
      axisLabel:{customValues:OMEGA_YLABELS, rotate:90, fontSize:80, margin:117, color:'#000', fontFamily:FONT},
      name:'predicted Ω\u0302', nameRotate:90, nameGap:232, nameTextStyle:{fontSize:84, color:'#000', fontFamily:FONT}}),
    tickAxis({gridIndex:2, min:-0.029, max:0.78,
      axisTick:{customValues:RHO_C_TICKS, length:28, lineStyle:tickStyle(3)},
      axisLabel:{customValues:RHO_C_LABELS, rotate:90, formatter:v => v.toFixed(1), fontSize:44, margin:62, color:'#000', fontFamily:FONT},
      name:'ρ', nameRotate:90, nameGap:121, nameTextStyle:{fontSize:44, color:'#000', fontFamily:FONT}}),
    tickAxis({gridIndex:3, min:-0.029, max:0.727,
      axisTick:{customValues:RHO_D_TICKS, length:28, lineStyle:tickStyle(3)},
      axisLabel:{customValues:RHO_D_LABELS, rotate:90, formatter:v => v.toFixed(1), fontSize:44, margin:62, color:'#000', fontFamily:FONT},
      name:'ρ', nameRotate:90, nameGap:121, nameTextStyle:{fontSize:44, color:'#000', fontFamily:FONT}})
  ],
  legend:[
    {data:[{name:'RS1', icon:ICON_SQ},{name:'RS2', icon:ICON_TRI},{name:'D-opt', icon:ICON_DIA},{name:'ALEC', icon:ICON_CIR}],
     orient:'vertical', left:1495, top:79, itemWidth:124, itemHeight:33, itemGap:15, padding:0, selectedMode:false,
     textStyle:{fontSize:68, lineHeight:70, color:'#000', fontFamily:FONT}},
    {data:[{name:'truth', icon:ICON_LINE},{name:'RS1', icon:ICON_SQ},{name:'RS2', icon:ICON_TRI},{name:'D-opt', icon:ICON_DIA},{name:'ALEC', icon:ICON_CIR}],
     orient:'vertical', left:3591, top:55, itemWidth:86, itemHeight:22, itemGap:10, padding:0, selectedMode:false,
     textStyle:{fontSize:46, lineHeight:46, color:'#000', fontFamily:FONT, padding:[0,0,0,35]}}
  ],
  series:[
    {type:'custom', name:'box', xAxisIndex:0, yAxisIndex:0, data:BOXES, renderItem:renderBox, z:3, silent:true},
    {type:'scatter', name:'outliers', xAxisIndex:0, yAxisIndex:0, data:OUTLIERS, symbol:'circle', symbolSize:20,
      itemStyle:{color:'#000'}, z:4, silent:true},
    pts('RS1', B_RS1, 'rect', 15, COL.green, 3),
    pts('RS2', B_RS2, 'triangle', 17, COL.blue, 4),
    pts('D-opt', B_DOPT, 'diamond', 16, COL.yellow, 5),
    pts('ALEC', B_ALEC, 'circle', 16, COL.red, 6),
    {type:'scatter', name:'marked', xAxisIndex:1, yAxisIndex:1, data:B_MARKED, symbol:'circle', symbolSize:25,
      itemStyle:{color:'rgba(0,0,0,0)', borderColor:'#000', borderWidth:4}, z:7, silent:true},
    curve('RS1', 2, XC, C_RS1, COL.green, 18, 3),
    curve('RS2', 2, XC, C_RS2, COL.blue, 20, 4),
    curve('D-opt', 2, XC, C_DOPT, COL.yellow, 14, 5),
    curve('ALEC', 2, XC, C_ALEC, COL.red, 14, 6),
    curve('truth', 2, XC, C_TRUTH, '#000', 4, 7),
    curve('RS1', 3, XDG, D_RS1, COL.green, 19, 3),
    curve('RS2', 3, XD, D_RS2, COL.blue, 20, 4),
    curve('D-opt', 3, XD, D_DOPT, COL.yellow, 14, 5),
    curve('ALEC', 3, XD, D_ALEC, COL.red, 14, 6),
    curve('truth', 3, XD, D_TRUTH, '#000', 4, 7)
  ]
};
chart.setOption(option);

// annotations: panel letters and purple connectors (anchored on data of panel b)
function toPx(p) { return chart.convertToPixel({gridIndex:1}, p); }
const c0 = toPx([CONN_C[0], CONN_C[1]]), c1 = toPx([CONN_C[0], CONN_C[2]]);
const d0 = toPx([CONN_D[0], CONN_D[1]]), d1 = toPx([CONN_D[0], CONN_D[2]]);
const tipC = 2808 - 131, tipD = 2808 - 148, head = 27, hh = 13;
function label(t, x, y, size) {
  return {type:'text', x, y, z:100, silent:true,
    style:{text:t, fontSize:size, fontFamily:FONT, fill:'#000', align:'center', verticalAlign:'middle', textAlign:'center', textVerticalAlign:'middle'}};
}
function arrow(p0, p1, tip) {
  return [
    {type:'polyline', z:100, silent:true, shape:{points:[[p0[0], p0[1]], [p1[0], p1[1]], [tip - head + 2, p1[1]]]},
      style:{stroke:COL.purple, lineWidth:4, fill:null}},
    {type:'polygon', z:100, silent:true, shape:{points:[[tip - head, p1[1] - hh], [tip, p1[1]], [tip - head, p1[1] + hh]]},
      style:{fill:COL.purple}}
  ];
}
chart.setOption({graphic:[
  label('(a)', 70, 60, 52), label('(b)', 1165, 62, 52), label('(c)', 2682, 64, 50), label('(d)', 2687, 604, 50)
].concat(arrow(c0, c1, tipC), arrow(d0, d1, tipD))});
</script>
</body>
</html>
